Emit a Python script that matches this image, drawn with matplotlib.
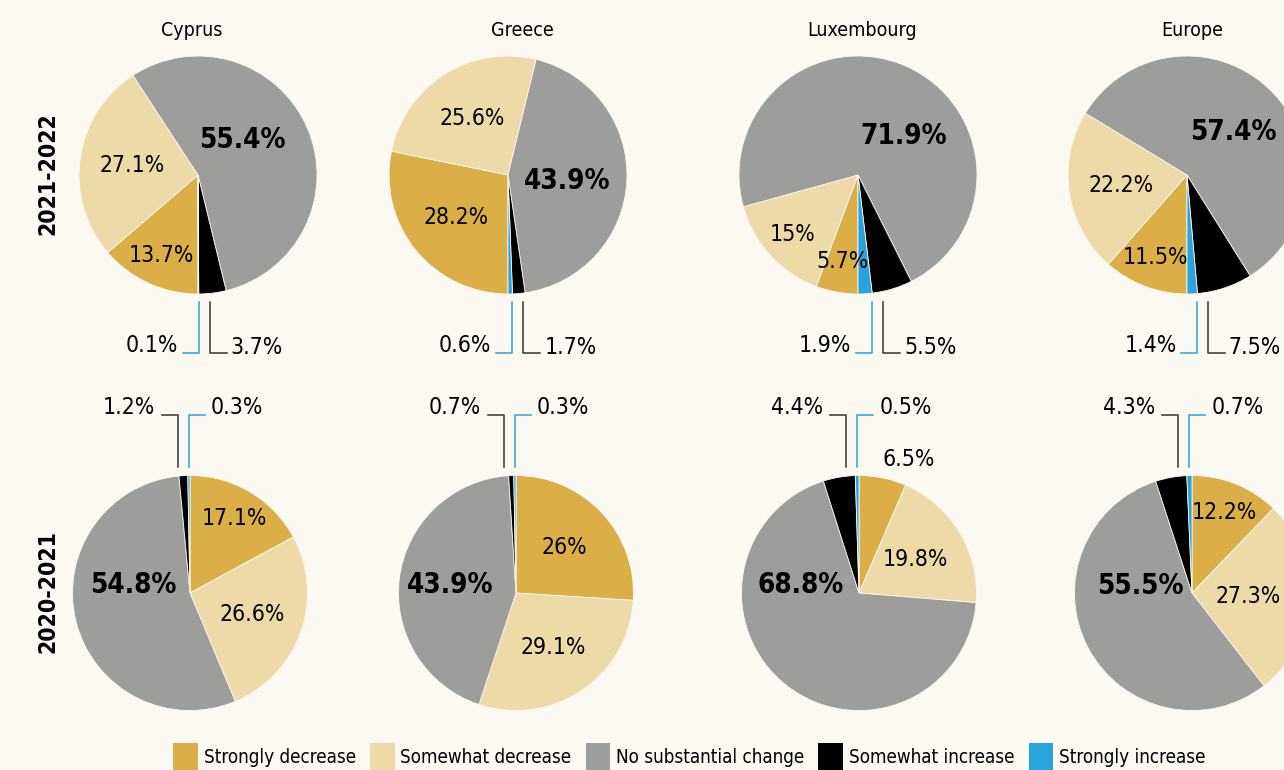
import numpy as np
import matplotlib
matplotlib.use('Agg')
import matplotlib.pyplot as plt
import matplotlib.patches as mpatches
from matplotlib import font_manager as fm

# categories / groups
categories = ['Strongly decrease', 'Somewhat decrease', 'No substantial change',
              'Somewhat increase', 'Strongly increase']
regions = ['Cyprus', 'Greece', 'Luxembourg', 'Europe']
periods = ['2021-2022', '2020-2021']

# shares in %, same order as categories
cyprus_2122 = [13.7, 27.1, 55.4, 3.7, 0.1]
greece_2122 = [28.2, 25.6, 43.9, 1.7, 0.6]
lux_2122 = [5.7, 15, 71.9, 5.5, 1.9]
europe_2122 = [11.5, 22.2, 57.4, 7.5, 1.4]

cyprus_2021 = [17.1, 26.6, 54.8, 1.2, 0.3]
greece_2021 = [26, 29.1, 43.9, 0.7, 0.3]
lux_2021 = [6.5, 19.8, 68.8, 4.4, 0.5]
europe_2021 = [12.2, 27.3, 55.5, 4.3, 0.7]

rows = [[cyprus_2122, greece_2122, lux_2122, europe_2122],
        [cyprus_2021, greece_2021, lux_2021, europe_2021]]

# ---- layout (pixels, y measured from the top) ----
W, H = 1284, 770
BG = '#fcf8f2'
COLORS = ['#dbaf48', '#eed9a9', '#9d9d9b', '#000000', '#28a3dc']
LINE_DARK = '#333333'

# the original uses a condensed face; take a condensed one if the system has it
narrow = [f for f in fm.fontManager.ttflist
          if 'condensed' in str(f.stretch) or 'Narrow' in f.name or 'Condensed' in f.name]
narrow.sort(key=lambda f: (f.name != 'DejaVu Sans', f.name))
if narrow:
    FONT = dict(family=[narrow[0].name, 'DejaVu Sans'], stretch=narrow[0].stretch)
    SCALE = 1.0
else:
    FONT = dict(family=['DejaVu Sans'])
    SCALE = 0.9

centers_x = [[198, 508, 858, 1187], [190, 516, 859, 1192]]
centers_y = [175, 593]
radius = [119, 117.5]
title_x = [192, 522, 862, 1192]
# where the bold "no change" label sits, as fraction of radius (dx, dy down)
bold_pos = [[(0.37, -0.29), (0.50, 0.05), (0.38, -0.33), (0.39, -0.36)],
            [(-0.48, -0.07), (-0.56, -0.07), (-0.50, -0.07), (-0.44, -0.06)]]
outside_labels = {(1, 2, 0)}

fs_lab = 16.5 * SCALE
fs_bold = 20 * SCALE
fs_title = 14 * SCALE
fs_row = 16.5 * SCALE
fs_leg = 13.5 * SCALE


def py(y):
    return H - y


fig = plt.figure(figsize=(W / 100, H / 100), dpi=100, facecolor=BG)
ax = fig.add_axes([0, 0, 1, 1])
ax.set_facecolor(BG)
labels = []

for ri, row in enumerate(rows):
    for ci, vals in enumerate(row):
        cx, cy, r = centers_x[ri][ci], centers_y[ri], radius[ri]
        start = 270 if ri == 0 else 90
        wedges, _ = ax.pie(vals, colors=COLORS, center=(cx, py(cy)), radius=r,
                           startangle=start, counterclock=False,
                           wedgeprops=dict(edgecolor=BG, linewidth=0.6))

        for i in range(3):
            w = wedges[i]
            txt = f'{vals[i]:g}%'
            a = np.deg2rad((w.theta1 + w.theta2) / 2)
            if i == 2:
                dx, dy = bold_pos[ri][ci]
                t = ax.text(cx + dx * r, py(cy + dy * r), txt, ha='center', va='center',
                            fontsize=fs_bold, fontweight='bold', **FONT)
            elif (ri, ci, i) in outside_labels:
                d = 1.16
                t = ax.text(cx + d * r * np.cos(a) - 4, py(cy) + d * r * np.sin(a), txt,
                            ha='left', va='center', fontsize=fs_lab, **FONT)
            else:
                d = 0.74 if vals[i] < 18 else 0.56
                t = ax.text(cx + d * r * np.cos(a), py(cy) + d * r * np.sin(a), txt,
                            ha='center', va='center', fontsize=fs_lab, **FONT)
            labels.append(t)

        # leader lines for the two small "increase" slices
        p_blue = vals[4] / 100
        edge = r * np.sin(2 * np.pi * p_blue)
        t_black = f'{vals[3]:g}%'
        t_blue = f'{vals[4]:g}%'
        if ri == 0:
            bx = cx + edge
            kx = bx + 11
            y1, y2 = cy + r + 8, cy + r + 59
            ax.plot([bx, bx, bx - 16], [py(y1), py(y2), py(y2)], color=COLORS[4], lw=1.1)
            ax.plot([kx, kx, kx + 17], [py(y1), py(y2), py(y2)], color=LINE_DARK, lw=1.1)
            ax.text(bx - 21, py(y2 - 1), t_blue, ha='right', va='baseline',
                    fontsize=fs_lab, **FONT)
            labels.append(ax.text(kx + 21, py(y2 + 1), t_black, ha='left', va='baseline',
                                  fontsize=fs_lab, **FONT))
        else:
            bx = cx - edge / 2
            kx = bx - 11
            y1, y2 = cy - r - 9, cy - r - 61
            ax.plot([kx, kx, kx - 16], [py(y1), py(y2), py(y2)], color=LINE_DARK, lw=1.1)
            ax.plot([bx, bx, bx + 16], [py(y1), py(y2), py(y2)], color=COLORS[4], lw=1.1)
            ax.text(kx - 23, py(y2), t_black, ha='right', va='baseline',
                    fontsize=fs_lab, **FONT)
            labels.append(ax.text(bx + 22, py(y2), t_blue, ha='left', va='baseline',
                                  fontsize=fs_lab, **FONT))

for name, x in zip(regions, title_x):
    ax.text(x, py(30), name, ha='center', va='center', fontsize=fs_title, **FONT)

for name, y in zip(periods, centers_y):
    ax.text(48, py(y - 1), name, ha='center', va='center', rotation=90,
            fontsize=fs_row, fontweight='bold', **FONT)

handles = [mpatches.Patch(facecolor=c, label=l) for c, l in zip(COLORS, categories)]
ax.legend(handles=handles, ncol=5, loc='upper left',
          bbox_to_anchor=(173 / W, 1 - 743 / H), bbox_transform=fig.transFigure,
          frameon=False, prop=fm.FontProperties(size=fs_leg, **FONT),
          handlelength=1.33, handleheight=1.9, handletextpad=0.3,
          columnspacing=0.75, borderpad=0, borderaxespad=0)

ax.set_xlim(0, W)
ax.set_ylim(0, H)
ax.set_aspect('equal')
ax.axis('off')

# keep labels near the cropped right edge inside the picture
fig.canvas.draw()
renderer = fig.canvas.get_renderer()
for t in labels:
    bb = t.get_window_extent(renderer)
    if bb.x1 > W - 3:
        x, y = t.get_position()
        t.set_position((x - (bb.x1 - (W - 3)), y))

fig.savefig('out.png', dpi=100, facecolor=BG)
